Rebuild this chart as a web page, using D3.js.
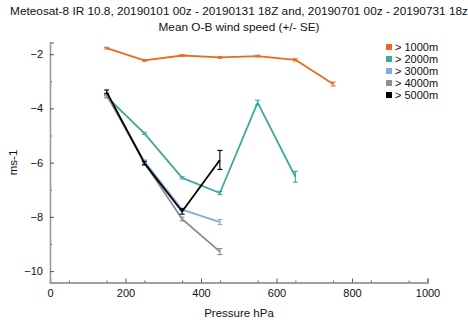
<!DOCTYPE html>
<html>
<head>
<meta charset="utf-8">
<script src="https://cdn.jsdelivr.net/npm/d3@7"></script>
<style>
  body { margin: 0; background: #fff; }
  svg { font-family: "Liberation Sans", Arial, sans-serif; }
</style>
</head>
<body>
<svg id="chart" width="468" height="322"></svg>
<script>
// chart data
var titleLines = ['Meteosat-8 IR 10.8, 20190101 00z - 20190131 18Z and, 20190701 00z - 20190731 18z',
  'Mean O-B wind speed (+/- SE)'];
var seriesNames = ['> 1000m', '> 2000m', '> 3000m', '> 4000m', '> 5000m'];
var seriesColors = ['#ea6a20', '#3aab9a', '#82a9ec', '#8e8e8e', '#000000'];

var pressure1000 = [150, 250, 350, 450, 550, 650, 750];
var mean1000 = [-1.78, -2.23, -2.05, -2.12, -2.07, -2.21, -3.1];
var se1000 = [0.03, 0.03, 0.03, 0.03, 0.03, 0.04, 0.07];

var pressure2000 = [150, 250, 350, 450, 550, 650];
var mean2000 = [-3.57, -4.92, -6.56, -7.12, -3.79, -6.52];
var se2000 = [0.04, 0.04, 0.04, 0.06, 0.09, 0.2];

var pressure3000 = [150, 250, 350, 450];
var mean3000 = [-3.48, -5.95, -7.73, -8.19];
var se3000 = [0.04, 0.05, 0.05, 0.09];

var pressure4000 = [150, 250, 350, 450];
var mean4000 = [-3.5, -6.0, -8.08, -9.28];
var se4000 = [0.04, 0.05, 0.07, 0.11];

var pressure5000 = [150, 250, 350, 450];
var mean5000 = [-3.39, -6.02, -7.8, -5.9];
var se5000 = [0.07, 0.07, 0.1, 0.35];

var xTicks = [0, 200, 400, 600, 800, 1000];
var yTicks = [-10, -8, -6, -4, -2];

var series = [
  {x: pressure1000, y: mean1000, se: se1000},
  {x: pressure2000, y: mean2000, se: se2000},
  {x: pressure3000, y: mean3000, se: se3000},
  {x: pressure4000, y: mean4000, se: se4000},
  {x: pressure5000, y: mean5000, se: se5000}
];

var svg = d3.select('#chart');
var plotLeft = 50, plotRight = 427.5, plotTop = 42.5, plotBottom = 282.5;

var x = d3.scaleLinear().domain([0, 1000]).range([plotLeft, plotRight]);
var y = d3.scaleLinear().domain([-10.42, -1.57]).range([plotBottom, plotTop]);

// title
svg.selectAll('text.title').data(titleLines).enter().append('text')
  .attr('class', 'title')
  .attr('x', 239).attr('y', function(d, i) { return 15 + i * 16; })
  .attr('text-anchor', 'middle')
  .attr('font-size', 11.8).attr('fill', '#111')
  .text(function(d) { return d; });

// axes, ticks point inward
var axisColor = '#999';
var xAxis = d3.axisBottom(x).tickValues(xTicks).tickSize(-4).tickPadding(7).tickFormat(d3.format('d'));
var xMinor = d3.axisBottom(x).tickValues(d3.range(50, 1000, 100)).tickSize(-2).tickFormat('');
var yAxis = d3.axisLeft(y).tickValues(yTicks).tickSize(-4).tickPadding(7).tickFormat(d3.format('d'));
var yMinor = d3.axisLeft(y).tickValues([-9, -7, -5, -3]).tickSize(-2).tickFormat('');

function styleAxis(g) {
  g.select('.domain').attr('stroke', axisColor).attr('stroke-width', 1.3);
  g.selectAll('.tick line').attr('stroke', '#555');
  g.selectAll('.tick text').attr('fill', '#111').attr('font-size', 11)
    .attr('font-family', '"Liberation Sans", Arial, sans-serif');
}

svg.append('g').attr('transform', 'translate(0,' + plotBottom + ')').call(xMinor).call(styleAxis);
svg.append('g').attr('transform', 'translate(0,' + plotBottom + ')').call(xAxis).call(styleAxis);
svg.append('g').attr('transform', 'translate(' + plotLeft + ',0)').call(yMinor).call(styleAxis);
svg.append('g').attr('transform', 'translate(' + plotLeft + ',0)').call(yAxis).call(styleAxis);

// axis labels
svg.append('text').attr('x', 239).attr('y', 317).attr('text-anchor', 'middle')
  .attr('font-size', 11.5).attr('fill', '#111').text('Pressure hPa');
svg.append('text').attr('transform', 'translate(17,' + (plotTop + plotBottom) / 2 + ') rotate(-90)')
  .attr('text-anchor', 'middle').attr('font-size', 11.5).attr('fill', '#111').text('ms-1');

// lines and error bars
var line = d3.line()
  .x(function(d) { return x(d.x); })
  .y(function(d) { return y(d.y); });

series.forEach(function(s, k) {
  var pts = s.x.map(function(v, i) { return {x: v, y: s.y[i], se: s.se[i]}; });
  var g = svg.append('g');
  g.append('path').datum(pts).attr('d', line)
    .attr('fill', 'none').attr('stroke', seriesColors[k]).attr('stroke-width', 1.8)
    .attr('stroke-linejoin', 'round');
  var bars = g.selectAll('g.err').data(pts).enter().append('g')
    .attr('stroke', seriesColors[k]).attr('stroke-width', 1.1);
  bars.append('line')
    .attr('x1', function(d) { return x(d.x); }).attr('x2', function(d) { return x(d.x); })
    .attr('y1', function(d) { return y(d.y - d.se); }).attr('y2', function(d) { return y(d.y + d.se); });
  [-1, 1].forEach(function(sg) {
    bars.append('line')
      .attr('x1', function(d) { return x(d.x) - 2.5; }).attr('x2', function(d) { return x(d.x) + 2.5; })
      .attr('y1', function(d) { return y(d.y + sg * d.se); }).attr('y2', function(d) { return y(d.y + sg * d.se); });
  });
});

// legend
var legend = svg.selectAll('g.legend').data(seriesNames).enter().append('g')
  .attr('transform', function(d, i) { return 'translate(386,' + (47 + i * 12) + ')'; });
legend.append('rect').attr('x', 0).attr('y', -3).attr('width', 6).attr('height', 6)
  .attr('fill', function(d, i) { return seriesColors[i]; });
legend.append('text').attr('x', 9).attr('y', 4).attr('font-size', 11).attr('fill', '#111')
  .text(function(d) { return d; });
</script>
</body>
</html>
